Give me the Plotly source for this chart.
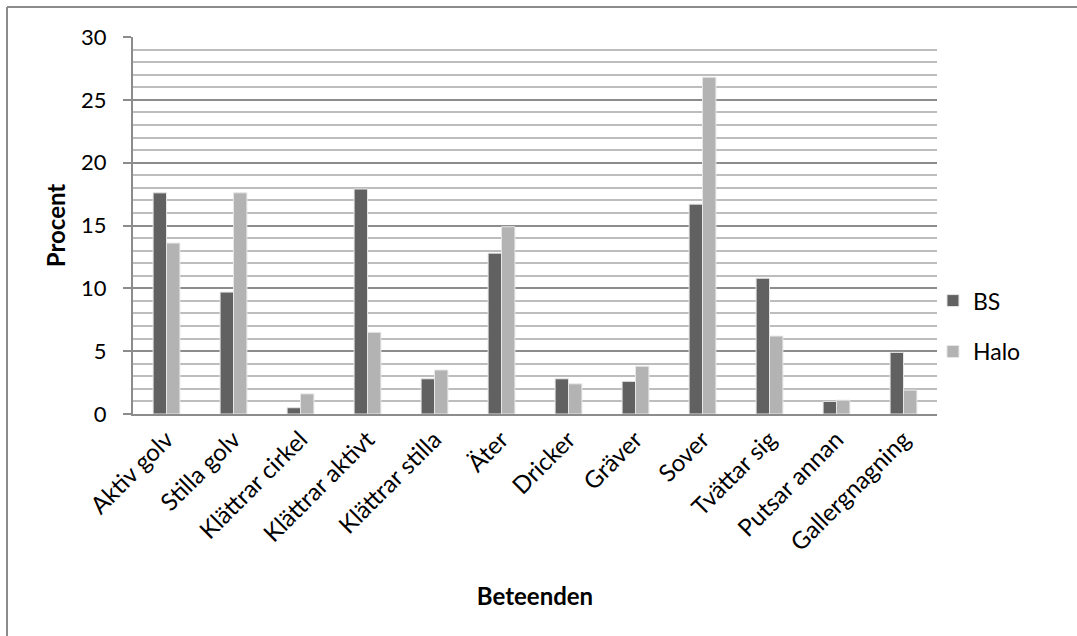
import plotly.graph_objects as go

categories = ["Aktiv golv", "Stilla golv", "Klättrar cirkel", "Klättrar aktivt",
              "Klättrar stilla", "Äter", "Dricker", "Gräver", "Sover",
              "Tvättar sig", "Putsar annan", "Gallergnagning"]
bs_values = [17.6, 9.7, 0.5, 17.9, 2.8, 12.8, 2.8, 2.6, 16.7, 10.8, 1.0, 4.9]
halo_values = [13.6, 17.6, 1.6, 6.5, 3.5, 14.9, 2.4, 3.8, 26.8, 6.2, 1.1, 1.9]
y_ticks = [0, 5, 10, 15, 20, 25, 30]

W, H = 1077, 636
L, R, T, B = 133, 140, 37, 222
pw, ph = W - L - R, H - T - B

def px_x(x):
    return (x - L) / pw

def px_y(y):
    return (H - B - y) / ph

FONT = "Lato, 'Open Sans', sans-serif"

fig = go.Figure()
fig.add_trace(go.Bar(x=categories, y=bs_values, name="BS", legendgroup="a",
                     marker=dict(color="#616161", line=dict(color="#e6e6e6", width=1))))
fig.add_trace(go.Bar(x=categories, y=halo_values, name="Halo", legendgroup="b",
                     marker=dict(color="#b3b3b3", line=dict(color="#e6e6e6", width=1))))

fig.update_layout(
    width=W, height=H,
    margin=dict(l=L, r=R, t=T, b=B, autoexpand=False),
    paper_bgcolor="white", plot_bgcolor="white",
    barmode="group", bargap=0.6, bargroupgap=0,
    font=dict(family=FONT, size=22, color="#000000"),
    legend=dict(x=0.995, xanchor="left", y=0.233, yanchor="middle",
                font=dict(size=23), tracegroupgap=18, traceorder="grouped",
                bgcolor="rgba(0,0,0,0)"),
    xaxis=dict(
        tickangle=-45, showline=True, linecolor="#8c8c8c", linewidth=2,
        showgrid=False, ticks="", tickfont=dict(size=24),
        title=dict(text="<b>Beteenden</b>", font=dict(size=24), standoff=33),
    ),
    yaxis=dict(
        range=[0, 30], tickvals=y_ticks, showline=True, linecolor="#8c8c8c",
        linewidth=2, ticks="outside", ticklen=8, tickcolor="#8c8c8c", tickwidth=2,
        showgrid=True, gridcolor="#8c8c8c", gridwidth=1.5, zeroline=False,
        tickfont=dict(size=22), ticklabelstandoff=12,
        minor=dict(dtick=1, showgrid=True, gridcolor="#bdbdbd", gridwidth=1.5, ticks=""),
        title=dict(text="<b>Procent</b>", font=dict(size=24), standoff=9),
    ),
    shapes=[
        dict(type="line", xref="paper", yref="paper",
             x0=px_x(7), x1=px_x(7), y0=px_y(700), y1=px_y(7),
             line=dict(color="#8c8c8c", width=2)),
        dict(type="line", xref="paper", yref="paper",
             x0=px_x(7), x1=px_x(1200), y0=px_y(7), y1=px_y(7),
             line=dict(color="#8c8c8c", width=2)),
    ],
)

fig.write_html("out.html", config={"displayModeBar": False},
               post_script="document.body.style.margin='0';document.body.style.overflow='hidden';")
